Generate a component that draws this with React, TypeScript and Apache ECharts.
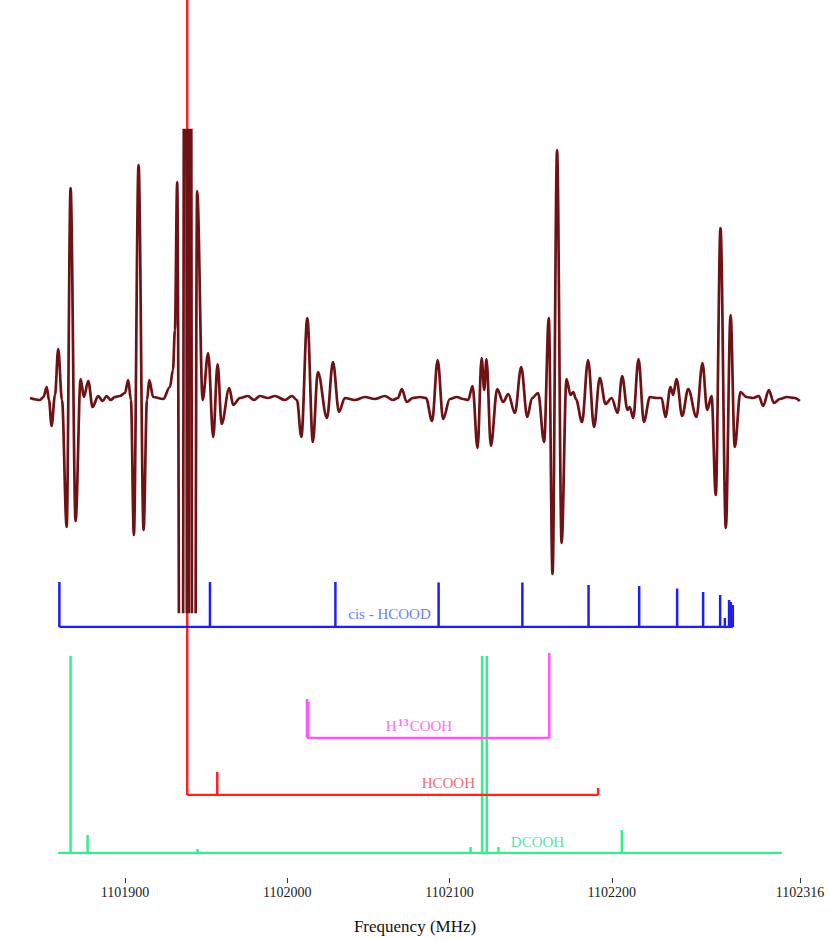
import React, { useEffect, useRef } from "react";
import * as echarts from "echarts";

const X_MIN = 1101841.5;
const X_MAX = 1102316;
const tickValues = [1101900, 1102000, 1102100, 1102200, 1102316];

// observed spectrum (frequency in MHz, intensity arb. units)
const spectrumFreq = [
  1101841.5, 1101847.6, 1101849.8, 1101851.8, 1101853.2, 1101854.8, 1101856.9, 1101858.9, 1101861.2, 1101864.1,
  1101866.5, 1101869.6, 1101872.7, 1101874.7, 1101877.4, 1101880.1, 1101883.5, 1101886.3, 1101888.7, 1101891.2,
  1101893.8, 1101896.9, 1101900.0, 1101902.0, 1101903.7, 1101905.5, 1101908.4, 1101911.5, 1101913.6, 1101915.0,
  1101917.4, 1101923.6, 1101927.7, 1101929.6, 1101930.8, 1101932.2, 1101934.8, 1101937.3, 1101938.8, 1101940.0,
  1101942.2, 1101944.5, 1101947.9, 1101951.3, 1101954.4, 1101957.1, 1101959.6, 1101964.3,
  1101966.7, 1101970.9, 1101975.8, 1101979.5, 1101983.2, 1101988.1, 1101992.4, 1101998.6, 1102002.9, 1102006.0,
  1102008.7, 1102012.4, 1102015.8, 1102018.9, 1102024.5, 1102028.2, 1102031.9, 1102035.5, 1102041.7, 1102047.9,
  1102054.0, 1102060.2, 1102065.1, 1102068.2, 1102070.7, 1102073.6, 1102077.4, 1102081.8, 1102085.5, 1102089.3,
  1102092.7, 1102096.1, 1102100.2, 1102104.5, 1102108.4, 1102111.5, 1102114.2, 1102117.3, 1102119.8, 1102121.4,
  1102122.8, 1102125.5, 1102129.4, 1102133.1, 1102136.2, 1102140.3, 1102144.2, 1102147.9, 1102150.9, 1102154.6,
  1102158.3, 1102161.2, 1102163.5, 1102166.3, 1102169.1, 1102172.1, 1102174.6, 1102176.3, 1102177.9, 1102181.7,
  1102185.4, 1102189.1, 1102192.6, 1102196.2, 1102199.9, 1102203.6, 1102206.4, 1102209.7, 1102211.1, 1102213.2,
  1102216.5, 1102219.8, 1102223.5, 1102227.6, 1102230.7, 1102233.1, 1102236.2, 1102237.8, 1102239.9, 1102243.4,
  1102247.1, 1102252.2, 1102255.9, 1102258.8, 1102261.5, 1102264.1, 1102267.0, 1102270.3, 1102273.2, 1102275.8,
  1102279.3, 1102283.0, 1102287.1, 1102290.6, 1102293.3, 1102296.8, 1102299.9, 1102303.6, 1102307.9, 1102312.8,
  1102315.9,
];
const spectrumInt = [
  0, -2, 1, 11, -2, -28, 3, 49, -2, -129,
  210, -123, 19, 1, 17, -9, 2, -3, 2, -2,
  1, 2, 5, 18, -2, -137, 233, -132, -2, 18,
  1, -1, 11, 28, 68, 216, -1000, 1000, -1000, 1000,
  -1000, 207, -2, 45, -39, 34, -26, 10,
  -7, 0, 2, -2, 2, 0, 2, -2, 2, -2,
  -39, 80, -44, 26, -20, 36, -14, 0, -2, 1,
  -1, 2, -2, 0, 9, -4, 0, 1, 0, -23,
  38, -21, -1, 1, -1, -2, 12, -50, 40, 8,
  39, -48, 9, -4, 4, -15, 31, -19, 0, 5,
  -44, 80, -176, 248, -145, 19, 3, 6, -1, -24,
  38, -29, 20, -6, 0, -15, 22, -12, -9, -20,
  39, -24, 1, 0, 0, -19, 11, 3, 19, -18,
  9, -19, 35, -12, 2, -97, 170, -130, 83, -49,
  6, 1, 0, 2, -8, 8, -5, -1, 1, 0,
  -3,
];

// cis-HCOOD predicted lines
const hcoodFreq = [1101859.6, 1101952.4, 1102029.7, 1102093.3, 1102144.9, 1102185.7, 1102216.9, 1102240.3, 1102256.3, 1102266.8, 1102269.7, 1102272.3, 1102273.4, 1102274.6];
const hcoodInt = [45, 45, 45, 44.5, 44.5, 42, 41, 38.5, 35, 32, 9, 27, 25, 22];

// H13COOH predicted lines
const h13Freq = [1102012.2, 1102013.0, 1102161.5];
const h13Int = [39, 36, 85];

// HCOOH predicted lines
const hcoohFreq = [1101938.4, 1101956.9, 1102191.6];
const hcoohInt = [2000, 23, 7];

// DCOOH predicted lines
const dcoohFreq = [1101866.5, 1101877.0, 1101944.8, 1102113.0, 1102120.1, 1102123.0, 1102130.2, 1102206.2];
const dcoohInt = [197, 18, 4, 6, 197, 197, 6, 23];
const dcoohRange = [1101858.9, 1102304.8];

const SERIF = '"Liberation Serif", "DejaVu Serif", serif';

export default function App() {
  const ref = useRef<HTMLDivElement>(null);

  useEffect(() => {
    if (!ref.current) return;
    const chart = echarts.init(ref.current, null, { renderer: "svg" });

    const gb = { left: 30, right: 30 };
    const grid = [
      { ...gb, top: 130, height: 482 },
      { ...gb, top: 577, height: 50 },
      { ...gb, top: 648, height: 90 },
      { ...gb, top: 0, height: 795 },
      { ...gb, top: 650, height: 203 },
      { ...gb, top: 860, height: 18 },
    ];
    const yRanges = [
      [-214, 268],
      [0, 50],
      [0, 90],
      [0, 795],
      [0, 203],
      [0, 1],
    ];
    const xAxis: any[] = grid.map((_, i) => ({
      type: "value",
      gridIndex: i,
      min: X_MIN,
      max: X_MAX,
      show: false,
    }));
    xAxis[5] = {
      type: "value",
      gridIndex: 5,
      min: X_MIN,
      max: X_MAX,
      show: true,
      axisLine: { show: false },
      splitLine: { show: false },
      axisTick: {
        show: true,
        length: 5,
        customValues: tickValues,
        lineStyle: { color: "#333", width: 1 },
      },
      axisLabel: {
        show: true,
        customValues: tickValues,
        margin: 7,
        color: "#222",
        fontFamily: SERIF,
        fontSize: 14,
        formatter: (v: number) => String(Math.round(v)),
      },
      name: "Frequency (MHz)",
      nameLocation: "middle",
      nameGap: 40,
      nameTextStyle: { color: "#111", fontFamily: SERIF, fontSize: 17 },
    };
    const yAxis = yRanges.map((r, i) => ({
      type: "value",
      gridIndex: i,
      min: r[0],
      max: r[1],
      show: false,
    }));

    const sticks = (i: number, freq: number[], ints: number[], color: string, w: number) => ({
      type: "bar",
      xAxisIndex: i,
      yAxisIndex: i,
      data: freq.map((f, k) => [f, ints[k]]),
      barWidth: w,
      itemStyle: { color },
      silent: true,
    });
    const baseline = (i: number, range: number[], color: string, w: number) => ({
      type: "line",
      xAxisIndex: i,
      yAxisIndex: i,
      data: [
        [range[0], 0],
        [range[1], 0],
      ],
      symbol: "none",
      lineStyle: { color, width: w },
      silent: true,
    });
    const span = (a: number[]) => [Math.min(...a), Math.max(...a)];

    const blue = "#1f1ff5";
    const magenta = "#ff55ff";
    const red = "#ff2222";
    const green = "#33f08c";

    chart.setOption({
      animation: false,
      backgroundColor: "#ffffff",
      grid,
      xAxis,
      yAxis,
      series: [
        {
          type: "line",
          xAxisIndex: 0,
          yAxisIndex: 0,
          data: spectrumFreq.map((f, k) => [f, spectrumInt[k]]),
          symbol: "none",
          smooth: 0.35,
          smoothMonotone: "x",
          lineStyle: { color: "#6e1216", width: 2.7 },
          silent: true,
        },
        sticks(1, hcoodFreq, hcoodInt, blue, 2.5),
        baseline(1, span(hcoodFreq), blue, 2.5),
        sticks(2, h13Freq, h13Int, magenta, 2.5),
        baseline(2, span(h13Freq), magenta, 2.5),
        sticks(4, dcoohFreq, dcoohInt, green, 2.5),
        baseline(4, dcoohRange, green, 2.5),
        sticks(3, hcoohFreq, hcoohInt, red, 2.5),
        baseline(3, span(hcoohFreq), red, 2.5),
        { type: "scatter", xAxisIndex: 5, yAxisIndex: 5, data: [], silent: true },
      ],
      graphic: [
        {
          type: "text",
          x: 389.5,
          y: 614,
          style: {
            text: "cis - HCOOD",
            fill: "#6f7ff0",
            font: `15px ${SERIF}`,
            align: "center",
            verticalAlign: "middle",
          },
        },
        {
          type: "text",
          x: 419,
          y: 725.5,
          style: {
            text: "{a|H}{b|13}{a|COOH}",
            align: "center",
            verticalAlign: "middle",
            rich: {
              a: { fill: "#ff6cff", fontFamily: SERIF, fontSize: 15, lineHeight: 18 },
              b: { fill: "#ff6cff", fontFamily: SERIF, fontSize: 11, fontWeight: "bold", lineHeight: 18, padding: [0, 1, 8, 1] },
            },
          },
        },
        {
          type: "text",
          x: 448.3,
          y: 782.5,
          style: {
            text: "HCOOH",
            fill: "#ee6e6e",
            font: `15px ${SERIF}`,
            align: "center",
            verticalAlign: "middle",
          },
        },
        {
          type: "text",
          x: 537.5,
          y: 841.7,
          style: {
            text: "DCOOH",
            fill: "#5fdfb0",
            font: `15px ${SERIF}`,
            align: "center",
            verticalAlign: "middle",
          },
        },
      ],
    });

    return () => chart.dispose();
  }, []);

  return (
    <div
      ref={ref}
      style={{ position: "fixed", left: 0, top: 0, width: 830, height: 939, background: "#fff" }}
    />
  );
}
